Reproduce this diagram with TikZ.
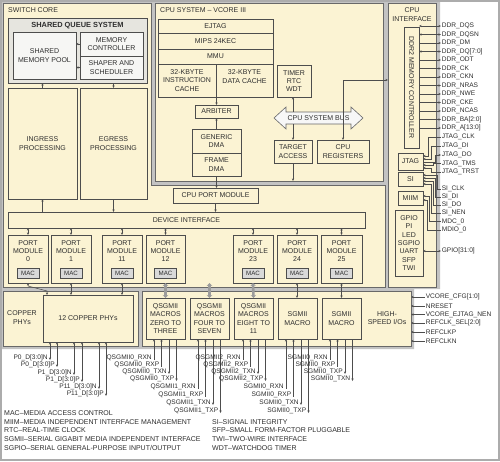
\documentclass[tikz,border=0pt]{standalone}
\usepackage{fontspec}
\setmainfont{Liberation Sans}
\usetikzlibrary{arrows.meta}
\definecolor{cream}{HTML}{FBF3D3}
\definecolor{panel}{HTML}{C3C3C3}
\definecolor{dk}{HTML}{4D4D4D}
\definecolor{sqsfill}{HTML}{E6E5DF}
\definecolor{innerfill}{HTML}{F6F6F4}
\definecolor{macfill}{HTML}{D9D9D9}
\definecolor{busfill}{HTML}{F7F7F7}
\definecolor{busgray}{HTML}{9C9C9C}
\definecolor{txtc}{HTML}{2E2E2E}
\newcommand\bx[7][]{\node[box,#1,minimum width={((#5)-(#3))*1pt},minimum height={((#6)-(#4))*1pt}] (#2) at ({((#3)+(#5))/2},{((#4)+(#6))/2}) {#7};}
\newcommand\portmod[4]{%
 \bx{#1}{#2}{235}{#3}{283}{}%
 \node[txt] (#1t) at ({((#2)+(#3))/2},251) {PORT\\MODULE\\#4};%
 \bx[mac]{#1m}{((#2)+(#3))/2-11}{268}{((#2)+(#3))/2+11}{278}{MAC}}
\newcommand\pinb[6]{%
 \node[pin,anchor=east] (#5) at ({(#3)-1.5},#4) {#6};%
 \draw[#1] ([xshift=1.5pt]#5.east |- #2.south) -- ([xshift=1.5pt,yshift=-2pt]#5.east);}
\newcommand\pinr[5]{%
 \node[pin,anchor=west] (#4) at (441,#3) {#5};%
 \draw[#1] (#2.east |- #4.west) -- (#4.west);}
\begin{document}
\begin{tikzpicture}[x=1pt,y=-1pt,
  >={Stealth[length=2.6pt,width=2.2pt]},
  every node/.style={text=txtc},
  txt/.style={font=\fontsize{7}{8.4}\selectfont, align=center, inner sep=0pt},
  box/.style={txt, draw=dk, line width=0.55pt, fill=cream, outer sep=0pt},
  big/.style={draw=dk!85, line width=0.9pt, fill=cream},
  sqsbox/.style={fill=sqsfill, line width=0.8pt},
  inbox/.style={fill=innerfill},
  mac/.style={fill=macfill, font=\fontsize{6.2}{7}\selectfont},
  pin/.style={font=\fontsize{6.6}{7}\selectfont, inner sep=0.6pt},
  leg/.style={font=\fontsize{7}{8}\selectfont, inner sep=0pt, anchor=west},
  conn/.style={draw=dk, line width=0.5pt},
  rxl/.style={conn,<-}, txl/.style={conn,->}, bil/.style={conn,<->},
  gbus/.style={draw=busgray, line width=2.6pt, {Stealth[length=3pt,width=5.5pt]}-{Stealth[length=3pt,width=5.5pt]}}
]
\useasboundingbox (0,0) rectangle (500,461);
\fill[white] (0,0) rectangle (500,461);
\fill[panel] (0,0) -- (440,0) -- (440,289) -- (414,289) -- (414,349) -- (0,349) -- cycle;
\draw[gray!65, line width=1.6pt] (0.8,0.8) rectangle (499.2,460.2);

% ---------------- switch core
\draw[big] (3,3) -- (151,3) -- (151,185) -- (385,185) -- (385,287) -- (3,287) -- cycle;
\node[txt,anchor=west] (swlab) at (8,10.5) {SWITCH CORE};
\bx[sqsbox]{sqs}{8}{18}{147}{83}{}
\node[txt,font=\fontsize{7.4}{8}\selectfont\bfseries] (sqst) at (77.5,25.5) {SHARED QUEUE SYSTEM};
\bx[inbox]{pool}{13}{32}{76}{79}{SHARED\\MEMORY POOL}
\bx[inbox]{memc}{80}{32}{143}{56}{MEMORY\\CONTROLLER}
\bx[inbox]{shaper}{80}{56}{143}{79}{SHAPER AND\\SCHEDULER}
\bx{ingress}{8}{88}{77}{199}{INGRESS\\PROCESSING}
\bx{egress}{80}{88}{147}{199}{EGRESS\\PROCESSING}
\bx{devif}{8}{212}{365}{228}{DEVICE INTERFACE}
\bx{cpupm}{173}{188}{258}{203}{CPU PORT MODULE}
\portmod{pm0}{8}{48}{0}
\portmod{pm1}{51}{91}{1}
\portmod{pm11}{102}{142}{11}
\portmod{pm12}{146}{185}{12}
\portmod{pm23}{233}{273}{23}
\portmod{pm24}{277}{317}{24}
\portmod{pm25}{321}{362}{25}

\draw[txl] (memc.west) -- (memc.west -| pool.east);
\draw[txl] (shaper.west) -- (shaper.west -| pool.east);
\draw[txl] (ingress.north) -- (ingress.north |- sqs.south);
\draw[txl] (egress.north |- sqs.south) -- (egress.north);
\draw[txl] (ingress.south |- devif.north) -- (ingress.south);
\draw[txl] (egress.south) -- (egress.south |- devif.north);
\foreach \m in {pm0,pm1,pm11,pm12,pm23,pm24,pm25}
  \draw[bil] (\m.north |- devif.south) -- (\m.north);

% ---------------- CPU system
\bx[big]{cpusys}{155}{3}{383}{181}{}
\node[txt,anchor=west] (cpulab) at (160,10.5) {CPU SYSTEM -- VCORE III};
\bx{ejtag}{158}{19}{273}{33}{EJTAG}
\bx{mips}{158}{33}{273}{49}{MIPS 24KEC}
\bx{mmu}{158}{49}{273}{64}{MMU}
\bx{icache}{158}{64}{216}{97}{32-KBYTE\\INSTRUCTION\\CACHE}
\bx{dcache}{216}{64}{273}{97}{}
\node[txt] (dcachet) at (244.5,76.5) {32-KBYTE\\DATA CACHE};
\bx{timer}{277}{65}{311}{97}{TIMER\\RTC\\WDT}
\bx{arbiter}{195}{105}{238}{118}{ARBITER}
\bx{gdma}{192}{129}{241}{153}{GENERIC\\DMA}
\bx{fdma}{192}{153}{241}{176}{FRAME\\DMA}
\draw[fill=busfill, draw=dk!85, line width=0.6pt] (274,118) -- (286,107) -- (286,112) -- (351,112) -- (351,107) -- (363,118) -- (351,129) -- (351,124) -- (286,124) -- (286,129) -- cycle;
\node[txt, minimum width=65pt, minimum height=12pt] (bus) at (318.5,118) {CPU SYSTEM BUS};
\bx{target}{274}{140}{312}{163}{TARGET\\ACCESS}
\bx{cpureg}{317}{140}{369}{163}{CPU\\REGISTERS}
\coordinate (regbend) at (343,80);

\draw[txl] (arbiter.north |- icache.south) -- (arbiter.north);
\draw[txl] (gdma.north) -- (arbiter.south);
\draw[txl] (fdma.south) -- (fdma.south |- cpupm.north);
\draw[txl] (cpupm.south) -- (cpupm.south |- devif.north);
\draw[txl] (target.north |- bus.north) -- (target.north |- timer.south);
\draw[txl] (target.north |- bus.south) -- (target.north);
\draw[txl] (target.south) -- (target.south |- cpusys.south);

% ---------------- CPU interface
\bx[big]{cpuif}{388}{3}{436}{287}{}
\node[txt] (cpuift) at (412,14.5) {CPU\\INTERFACE};
\bx{ddr}{404}{27}{419}{148}{}
\node[txt,rotate=-90] (ddrt) at (411.5,87.5) {DDR2 MEMORY CONTROLLER};
\bx{jtag}{398}{153}{423}{170}{JTAG}
\bx{si}{398}{172}{423}{186}{SI}
\bx{miim}{398}{191}{423}{205}{MIIM}
\bx{gpio}{395}{210}{423}{276}{GPIO\\PI\\LED\\SGPIO\\UART\\SFP\\TWI}
\draw[bil] (cpureg.north) -- (cpureg.north |- regbend) -- (regbend -| cpuif.west);

\pinr{bil}{ddr}{26}{d1}{DDR\_DQS}
\pinr{bil}{ddr}{34.5}{d2}{DDR\_DQSN}
\pinr{txl}{ddr}{43}{d3}{DDR\_DM}
\pinr{bil}{ddr}{51.5}{d4}{DDR\_DQ[7:0]}
\pinr{txl}{ddr}{60}{d5}{DDR\_ODT}
\pinr{txl}{ddr}{68.5}{d6}{DDR\_CK}
\pinr{txl}{ddr}{77}{d7}{DDR\_CKN}
\pinr{txl}{ddr}{85.5}{d8}{DDR\_NRAS}
\pinr{txl}{ddr}{94}{d9}{DDR\_NWE}
\pinr{txl}{ddr}{102.5}{d10}{DDR\_CKE}
\pinr{txl}{ddr}{111}{d11}{DDR\_NCAS}
\pinr{txl}{ddr}{119.5}{d12}{DDR\_BA[2:0]}
\pinr{txl}{ddr}{128}{d13}{DDR\_A[13:0]}

\node[pin,anchor=west] (j1) at (441,137) {JTAG\_CLK};
\node[pin,anchor=west] (j2) at (441,146) {JTAG\_DI};
\node[pin,anchor=west] (j3) at (441,155) {JTAG\_DO};
\node[pin,anchor=west] (j4) at (441,163.5) {JTAG\_TMS};
\node[pin,anchor=west] (j5) at (441,172) {JTAG\_TRST};
\draw[rxl] ([yshift=5.5pt]jtag.east) -- ++(5,0) |- (j1.west);
\draw[rxl] ([yshift=2.5pt]jtag.east) -- ++(8,0) |- (j2.west);
\draw[txl] ([yshift=-0.5pt]jtag.east) -- ++(12,0) |- (j3.west);
\draw[rxl] ([yshift=-3.5pt]jtag.east) -- ++(10,0) |- (j4.west);
\draw[rxl] ([yshift=-6.5pt]jtag.east) -- ++(8,0) |- (j5.west);

\node[pin,anchor=west] (s1) at (441,189) {SI\_CLK};
\node[pin,anchor=west] (s2) at (441,197) {SI\_DI};
\node[pin,anchor=west] (s3) at (441,205) {SI\_DO};
\node[pin,anchor=west] (s4) at (441,213) {SI\_NEN};
\draw[rxl] ([yshift=4pt]si.east) -- ++(14,0) |- (s1.west);
\draw[rxl] ([yshift=1pt]si.east) -- ++(12,0) |- (s2.west);
\draw[rxl] ([yshift=-2pt]si.east) -- ++(10,0) |- (s3.west);
\draw[rxl] ([yshift=-5pt]si.east) -- ++(8,0) |- (s4.west);
\node[pin,anchor=west] (m1) at (441,221.5) {MDC\_0};
\node[pin,anchor=west] (m2) at (441,230) {MDIO\_0};
\draw[rxl] ([yshift=2pt]miim.east) -- ++(6,0) |- (m1.west);
\draw[rxl] ([yshift=-2pt]miim.east) -- ++(4,0) |- (m2.west);
\pinr{bil}{gpio}{251}{g1}{GPIO[31:0]}

% ---------------- lower blocks
\bx[big]{copper}{3}{291}{138}{346}{}
\node[txt] (coppert) at (22,317.5) {COPPER\\PHYs};
\bx{phys}{43}{295}{133}{342}{12 COPPER PHYs}
\bx[big]{hs}{142}{291}{411}{346}{}
\node[txt] (hst) at (387,318) {HIGH-\\SPEED I/Os};
\bx{q0}{146}{298}{185}{339}{QSGMII\\MACROS\\ZERO TO\\THREE}
\bx{q1}{190}{298}{229}{339}{QSGMII\\MACROS\\FOUR TO\\SEVEN}
\bx{q2}{234}{298}{273}{339}{QSGMII\\MACROS\\EIGHT TO\\11}
\bx{sg0}{278}{298}{317}{339}{SGMII\\MACRO}
\bx{sg1}{322}{298}{361}{339}{SGMII\\MACRO}

\coordinate (q1src) at (209.5,283);
\draw[bil] (pm0.south) -- ++(0,3) -- ([xshift=4pt,yshift=4pt]phys.north west) -- ([xshift=4pt]phys.north west);
\draw[bil] (pm1.south) -- (pm1.south |- phys.north);
\draw[bil] (pm11.south) -- (pm11.south |- phys.north);
\draw[gbus] (pm12.south) -- (q0.north);
\draw[gbus] (q1src) -- (q1.north);
\draw[gbus] (pm23.south) -- (q2.north);
\draw[bil] (pm24.south) -- (pm24.south |- sg0.north);
\draw[bil] (pm25.south) -- (pm25.south |- sg1.north);

\node[pin,anchor=west] (h1) at (425,297) {VCORE\_CFG[1:0]};
\node[pin,anchor=west] (h2) at (425,306) {NRESET};
\node[pin,anchor=west] (h3) at (425,314.5) {VCORE\_EJTAG\_NEN};
\node[pin,anchor=west] (h4) at (425,323) {REFCLK\_SEL[2:0]};
\node[pin,anchor=west] (h5) at (425,332) {REFCLKP};
\node[pin,anchor=west] (h6) at (425,341) {REFCLKN};
\foreach \h in {h1,h2,h3,h4,h5,h6}
  \draw[rxl] (hs.east |- \h.west) -- (\h.west);

% copper pins
\pinb{bil}{phys}{50}{358}{cp1}{P0\_D[3:0]N}
\pinb{bil}{phys}{57}{365}{cp2}{P0\_D[3:0]P}
\pinb{bil}{phys}{74}{373}{cp3}{P1\_D[3:0]N}
\pinb{bil}{phys}{82}{380}{cp4}{P1\_D[3:0]P}
\pinb{bil}{phys}{99}{387}{cp5}{P11\_D[3:0]N}
\pinb{bil}{phys}{106}{394}{cp6}{P11\_D[3:0]P}
% QSGMII / SGMII pins
\pinb{rxl}{q0}{154}{358}{qa1}{QSGMII0\_RXN}
\pinb{rxl}{q0}{161.5}{365}{qa2}{QSGMII0\_RXP}
\pinb{txl}{q0}{169}{372}{qa3}{QSGMII0\_TXN}
\pinb{txl}{q0}{176.5}{379}{qa4}{QSGMII0\_TXP}
\pinb{rxl}{q1}{198}{387}{qb1}{QSGMII1\_RXN}
\pinb{rxl}{q1}{205.5}{395}{qb2}{QSGMII1\_RXP}
\pinb{txl}{q1}{213}{403}{qb3}{QSGMII1\_TXN}
\pinb{txl}{q1}{220.5}{411}{qb4}{QSGMII1\_TXP}
\pinb{rxl}{q2}{243}{358}{qc1}{QSGMII2\_RXN}
\pinb{rxl}{q2}{250.5}{365}{qc2}{QSGMII2\_RXP}
\pinb{txl}{q2}{258}{372}{qc3}{QSGMII2\_TXN}
\pinb{txl}{q2}{265.5}{379}{qc4}{QSGMII2\_TXP}
\pinb{rxl}{sg0}{286}{387}{sa1}{SGMII0\_RXN}
\pinb{rxl}{sg0}{293.5}{395}{sa2}{SGMII0\_RXP}
\pinb{txl}{sg0}{301}{403}{sa3}{SGMII0\_TXN}
\pinb{txl}{sg0}{308.5}{411}{sa4}{SGMII0\_TXP}
\pinb{rxl}{sg1}{330}{358}{sb1}{SGMII0\_RXN}
\pinb{rxl}{sg1}{337.5}{365}{sb2}{SGMII0\_RXP}
\pinb{txl}{sg1}{345}{372}{sb3}{SGMII0\_TXP}
\pinb{txl}{sg1}{352.5}{379}{sb4}{SGMII0\_TXN}

% ---------------- legend
\node[leg] (lg1) at (4,413.5) {MAC--MEDIA ACCESS CONTROL};
\node[leg] (lg2) at (4,422) {MIIM--MEDIA INDEPENDENT INTERFACE MANAGEMENT};
\node[leg] (lg3) at (4,430.5) {RTC--REAL-TIME CLOCK};
\node[leg] (lg4) at (4,439.5) {SGMII--SERIAL GIGABIT MEDIA INDEPENDENT INTERFACE};
\node[leg] (lg5) at (4,448) {SGPIO--SERIAL GENERAL-PURPOSE INPUT/OUTPUT};
\node[leg] (lg6) at (212,422) {SI--SIGNAL INTEGRITY};
\node[leg] (lg7) at (212,430.5) {SFP--SMALL FORM-FACTOR PLUGGABLE};
\node[leg] (lg8) at (212,439.5) {TWI--TWO-WIRE INTERFACE};
\node[leg] (lg9) at (212,448) {WDT--WATCHDOG TIMER};
\end{tikzpicture}
\end{document}
